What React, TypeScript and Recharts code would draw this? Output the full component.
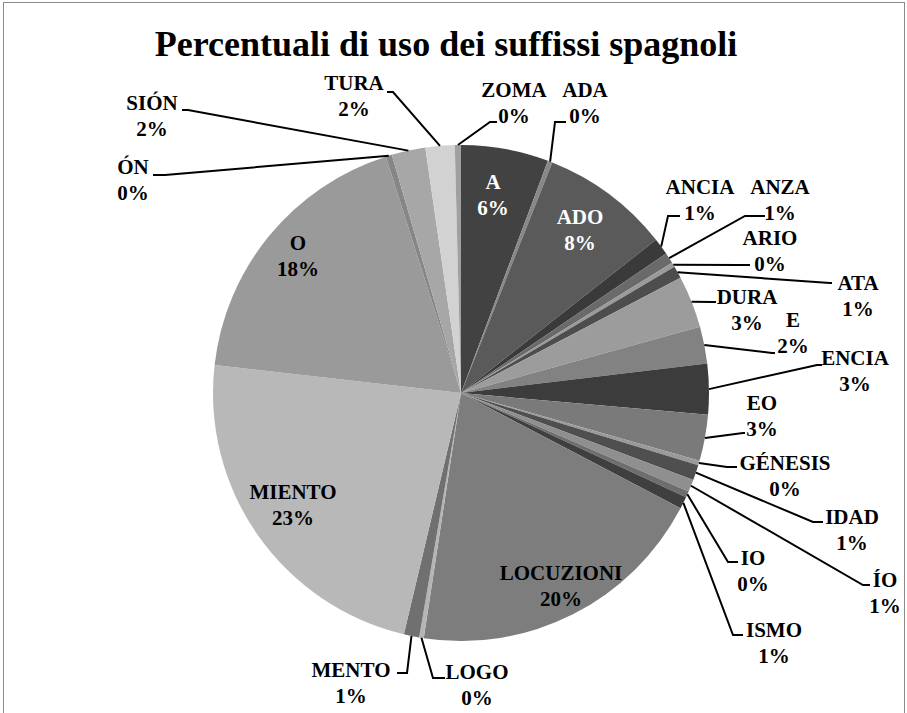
import React from 'react'
import { PieChart, Pie, Cell } from 'recharts'

// suffixes in the order the slices run, clockwise from 12 o'clock
const SUFFIXES = [
  'A', 'ADA', 'ADO', 'ANCIA', 'ANZA', 'ARIO', 'ATA', 'DURA', 'E', 'ENCIA',
  'EO', 'GÉNESIS', 'IDAD', 'ÍO', 'IO', 'ISMO', 'LOCUZIONI', 'LOGO', 'MENTO',
  'MIENTO', 'O', 'ÓN', 'SIÓN', 'TURA', 'ZOMA',
]

// share of use (%)
const SHARES = [
  5.7, 0.3, 8.4, 1.1, 0.7, 0.3, 0.8, 3.4, 2.4, 3.3,
  3.0, 0.3, 1.0, 0.8, 0.4, 0.8, 19.7, 0.3, 1.0,
  23.1, 18.3, 0.4, 2.2, 1.9, 0.4,
]

const SLICE_GRAYS = [
  '#424242', '#888888', '#5a5a5a', '#3a3a3a', '#6a6a6a', '#9a9a9a', '#4d4d4d', '#9c9c9c', '#828282', '#3c3c3c',
  '#7a7a7a', '#9a9a9a', '#4f4f4f', '#8f8f8f', '#6e6e6e', '#3f3f3f', '#7d7d7d', '#b5b5b5', '#707070',
  '#b8b8b8', '#9a9a9a', '#868686', '#a7a7a7', '#d2d2d2', '#a0a0a0',
]

const TITLE = 'Percentuali di uso dei suffissi spagnoli'

// where each data label sits (centre of its first line) and, for the
// outside ones, the elbow of the leader line and where it stops
type LabelPlace = { x: number; y: number; white?: boolean; lead?: [number, number, number] }
const LABEL_PLACE: Record<string, LabelPlace> = {
  A: { x: 493, y: 182, white: true },
  ADA: { x: 585, y: 90, lead: [555, 122, 566] },
  ADO: { x: 580, y: 217, white: true },
  ANCIA: { x: 700, y: 187, lead: [668, 216, 680] },
  ANZA: { x: 780, y: 187, lead: [745, 216, 765] },
  ARIO: { x: 770, y: 238, lead: [740, 265, 750] },
  ATA: { x: 858, y: 283, lead: [830, 283, 832] },
  DURA: { x: 747, y: 297, lead: [713, 302, 716] },
  E: { x: 793, y: 320, lead: [772, 353, 775] },
  ENCIA: { x: 855, y: 358, lead: [817, 365, 822] },
  EO: { x: 762, y: 403, lead: [743, 433, 745] },
  'GÉNESIS': { x: 785, y: 463, lead: [727, 467, 737] },
  IDAD: { x: 852, y: 517, lead: [813, 522, 823] },
  'ÍO': { x: 885, y: 580, lead: [863, 585, 870] },
  IO: { x: 753, y: 558, lead: [728, 562, 738] },
  ISMO: { x: 774, y: 630, lead: [733, 635, 743] },
  LOCUZIONI: { x: 561, y: 573 },
  LOGO: { x: 477, y: 672, lead: [433, 678, 445] },
  MENTO: { x: 351, y: 670, lead: [407, 673, 397] },
  MIENTO: { x: 293, y: 492 },
  O: { x: 298, y: 243 },
  'ÓN': { x: 133, y: 167, lead: [165, 175, 153] },
  'SIÓN': { x: 152, y: 103, lead: [188, 110, 182] },
  TURA: { x: 354, y: 83, lead: [393, 92, 387] },
  ZOMA: { x: 514, y: 90, lead: [490, 122, 497] },
}

const data = SUFFIXES.map((name, i) => ({ name, value: SHARES[i] }))

const FONT = 'Liberation Serif, DejaVu Serif, Times New Roman, serif'
const RAD = Math.PI / 180

function SliceLabel(props: any) {
  const { cx, cy, midAngle, outerRadius, percent, name } = props
  const place = LABEL_PLACE[name]
  if (!place) return null
  const color = place.white ? '#ffffff' : '#000000'
  let leader = null
  if (place.lead) {
    const sx = cx + outerRadius * Math.cos(-midAngle * RAD)
    const sy = cy + outerRadius * Math.sin(-midAngle * RAD)
    const [ex, ey, tx] = place.lead
    leader = (
      <polyline
        points={`${sx},${sy} ${ex},${ey} ${tx},${ey}`}
        fill="none"
        stroke="#000"
        strokeWidth={2}
      />
    )
  }
  return (
    <g>
      {leader}
      <text
        x={place.x}
        y={place.y}
        textAnchor="middle"
        dominantBaseline="central"
        fill={color}
        fontFamily={FONT}
        fontWeight={700}
        fontSize={21}
      >
        {name}
      </text>
      <text
        x={place.x}
        y={place.y + 26}
        textAnchor="middle"
        dominantBaseline="central"
        fill={color}
        fontFamily={FONT}
        fontWeight={700}
        fontSize={21}
      >
        {Math.round(percent * 100)}%
      </text>
    </g>
  )
}

export default function App() {
  return (
    <div style={{ position: 'absolute', left: 0, top: 0, width: 907, height: 713, background: '#fff', overflow: 'hidden', fontFamily: FONT }}>
      <div
        style={{
          position: 'absolute', left: 3, top: 2, width: 900, height: 740,
          border: '1.5px solid #8a8a8a',
        }}
      />
      <PieChart width={907} height={713} margin={{ top: 0, right: 0, bottom: 0, left: 0 }}>
        <Pie
          data={data}
          dataKey="value"
          nameKey="name"
          cx={461}
          cy={393}
          outerRadius={248}
          startAngle={90}
          endAngle={-270}
          stroke="none"
          label={SliceLabel}
          labelLine={false}
          isAnimationActive={false}
        >
          {data.map((d, i) => (
            <Cell key={d.name} fill={SLICE_GRAYS[i]} />
          ))}
        </Pie>
      </PieChart>
      <svg width={907} height={80} style={{ position: 'absolute', left: 0, top: 0 }}>
        <text
          x={446}
          y={56}
          textAnchor="middle"
          fontFamily={FONT}
          fontWeight={700}
          fontSize={36}
        >
          {TITLE}
        </text>
      </svg>
    </div>
  )
}
